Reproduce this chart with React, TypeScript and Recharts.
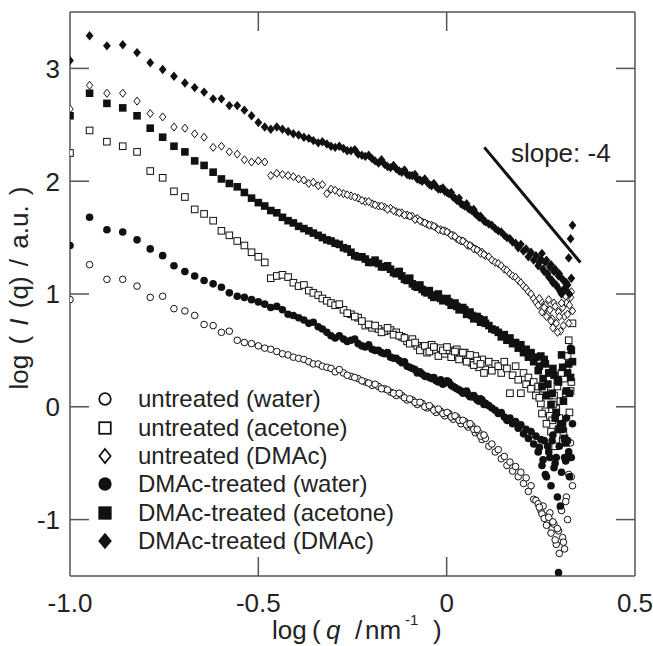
import React from "react";
import {
  ScatterChart,
  Scatter,
  XAxis,
  YAxis,
  ReferenceLine,
  ReferenceDot,
  Legend,
  Label,
} from "recharts";

// log(q) grid shared by all six curves
const LOGQ = [
  -1.0, -0.948, -0.902, -0.86, -0.822, -0.787, -0.754, -0.724, -0.695, -0.669,
  -0.644, -0.62, -0.598, -0.577, -0.556, -0.537, -0.518, -0.5, -0.483, -0.467,
  -0.451, -0.436, -0.421, -0.407, -0.393, -0.379, -0.366, -0.354, -0.341, -0.33,
  -0.318, -0.307, -0.296, -0.274, -0.254, -0.235, -0.216, -0.198, -0.181, -0.165,
  -0.149, -0.134, -0.119, -0.105, -0.091, -0.078, -0.065, -0.052, -0.04, -0.028,
  -0.016, -0.005, 0.006, 0.017, 0.027, 0.038, 0.048, 0.057, 0.067, 0.076,
  0.086, 0.094, 0.103, 0.112, 0.12, 0.129, 0.137, 0.145, 0.153, 0.16,
  0.168, 0.175, 0.183, 0.19, 0.197, 0.204, 0.211, 0.217, 0.224, 0.231,
  0.237, 0.243, 0.25, 0.256, 0.262, 0.268, 0.274, 0.28, 0.285, 0.291,
  0.297, 0.302, 0.308, 0.313, 0.318, 0.324, 0.329, 0.334,
];

// in-between q points of the dense part
const LOGQ_B = [
  -0.285, -0.264, -0.244, -0.225, -0.207, -0.19, -0.173, -0.157, -0.141, -0.126,
  -0.112, -0.098, -0.084, -0.071, -0.058, -0.046, -0.034, -0.022, -0.01, 0.001,
  0.012, 0.022, 0.033, 0.043, 0.053, 0.062, 0.072, 0.081, 0.09, 0.099,
  0.246, 0.253, 0.259, 0.265, 0.271, 0.277, 0.282, 0.288, 0.294, 0.299,
  0.305, 0.31, 0.316, 0.321, 0.326, 0.331,
];

const untreatedWater = [
  0.95, 1.26, 1.13, 1.13, 1.07, 0.97, 0.98, 0.87, 0.85, 0.81,
  0.73, 0.72, 0.66, 0.67, 0.59, 0.57, 0.56, 0.54, 0.52, 0.51,
  0.49, 0.47, 0.46, 0.44, 0.43, 0.42, 0.4, 0.38, 0.38, 0.36,
  0.35, 0.34, 0.31, 0.3, 0.27, 0.25, 0.22, 0.19, 0.18, 0.16,
  0.13, 0.1, 0.1, 0.06, 0.06, 0.02, 0.03, -0.01, -0.01, -0.05,
  -0.04, -0.08, -0.06, -0.11, -0.09, -0.15, -0.13, -0.18, -0.17, -0.23,
  -0.23, -0.29, -0.28, -0.35, -0.33, -0.4, -0.38, -0.46, -0.44, -0.52,
  -0.49, -0.57, -0.53, -0.62, -0.58, -0.68, -0.63, -0.75, -0.7, -0.82,
  -0.83, -0.86, -0.92, -0.88, -0.97, -1.01, -0.94, -1.08, -1.04, -1.22,
  -1.1, -0.89, -1.16, -1.26, -0.8, -0.6, -0.32, -0.7,
];
const untreatedWaterB = [
  0.33, 0.28, 0.26, 0.23, 0.21, 0.2, 0.16, 0.15, 0.12, 0.12,
  0.08, 0.07, 0.04, 0.04, 0.0, 0.01, -0.03, -0.02, -0.06, -0.05,
  -0.09, -0.08, -0.12, -0.12, -0.16, -0.15, -0.2, -0.2, -0.26, -0.25,
  -0.89, -0.95, -0.99, -1.05, -0.98, -1.12, -1.02, -1.18, -1.08, -1.3,
  -0.92, -1.2, -0.84, -1.0, -0.45, -0.62,
];

const untreatedAcetone = [
  2.25, 2.45, 2.35, 2.31, 2.26, 2.09, 2.03, 1.91, 1.86, 1.75,
  1.71, 1.65, 1.56, 1.52, 1.47, 1.43, 1.37, 1.33, 1.28, 1.14,
  1.16, 1.17, 1.15, 1.1, 1.07, 1.08, 1.03, 1.01, 0.99, 0.96,
  0.94, 0.92, 0.9, 0.86, 0.82, 0.79, 0.72, 0.7, 0.69, 0.67,
  0.68, 0.66, 0.62, 0.58, 0.6, 0.54, 0.52, 0.48, 0.55, 0.5,
  0.52, 0.47, 0.5, 0.46, 0.51, 0.45, 0.48, 0.43, 0.39, 0.45,
  0.35, 0.42, 0.33, 0.4, 0.32, 0.38, 0.36, 0.3, 0.4, 0.34,
  0.12, 0.28, 0.36, 0.24, 0.12, 0.3, 0.2, 0.26, 0.16, 0.22,
  0.1, 0.18, 0.03, 0.14, -0.04, 0.2, -0.08, -0.12, 0.1, -0.02,
  -0.2, 0.05, -0.3, 0.25, 0.35, 0.59, 0.14, 0.74,
];
const untreatedAcetoneB = [
  0.91, 0.83, 0.8, 0.76, 0.73, 0.72, 0.66, 0.7, 0.64, 0.63,
  0.61, 0.56, 0.57, 0.5, 0.54, 0.49, 0.53, 0.45, 0.5, 0.53,
  0.44, 0.49, 0.42, 0.48, 0.4, 0.46, 0.37, 0.41, 0.38, 0.3,
  0.08, -0.06, 0.16, -0.15, 0.1, -0.22, 0.02, -0.35, 0.18, -0.1,
  0.3, -0.25, 0.12, 0.45, -0.05, 0.22,
];

const untreatedDMAc = [
  2.64, 2.85, 2.78, 2.78, 2.71, 2.6, 2.57, 2.48, 2.47, 2.42,
  2.39, 2.3, 2.31, 2.26, 2.24, 2.19, 2.17, 2.18, 2.17, 2.05,
  2.07, 2.06, 2.05, 2.04, 2.02, 2.01, 1.98, 1.99, 1.96, 1.97,
  1.89, 1.93, 1.92, 1.89, 1.87, 1.85, 1.82, 1.8, 1.78, 1.77,
  1.76, 1.73, 1.72, 1.7, 1.69, 1.67, 1.64, 1.62, 1.61, 1.59,
  1.57, 1.56, 1.54, 1.52, 1.49, 1.47, 1.46, 1.43, 1.42, 1.4,
  1.38, 1.37, 1.34, 1.33, 1.3, 1.28, 1.27, 1.25, 1.22, 1.21,
  1.18, 1.16, 1.15, 1.12, 1.1, 1.07, 1.05, 1.02, 1.0, 0.96,
  0.93, 0.9, 0.94, 0.86, 0.9, 0.82, 0.86, 0.78, 0.92, 0.74,
  0.84, 0.67, 0.88, 0.8, 0.92, 0.74, 0.97, 0.85,
];
const untreatedDMAcB = [
  1.9, 1.88, 1.86, 1.83, 1.82, 1.79, 1.78, 1.75, 1.74, 1.72,
  1.7, 1.69, 1.66, 1.65, 1.63, 1.61, 1.6, 1.57, 1.56, 1.55,
  1.52, 1.51, 1.48, 1.47, 1.44, 1.43, 1.4, 1.39, 1.36, 1.35,
  0.96, 0.84, 0.88, 0.8, 0.95, 0.76, 0.7, 0.89, 0.66, 0.8,
  0.92, 0.72, 0.98, 0.82, 0.9, 1.02,
];

const treatedWater = [
  1.43, 1.68, 1.57, 1.55, 1.48, 1.4, 1.34, 1.25, 1.2, 1.16,
  1.12, 1.09, 1.06, 1.01, 0.98, 0.97, 0.95, 0.93, 0.91, 0.88,
  0.89, 0.86, 0.82, 0.81, 0.79, 0.77, 0.74, 0.75, 0.71, 0.69,
  0.66, 0.63, 0.61, 0.6, 0.59, 0.56, 0.53, 0.51, 0.5, 0.47,
  0.44, 0.43, 0.39, 0.36, 0.34, 0.3, 0.29, 0.27, 0.25, 0.23,
  0.24, 0.21, 0.22, 0.18, 0.16, 0.14, 0.13, 0.11, 0.09, 0.08,
  0.05, 0.06, 0.03, 0.01, -0.01, -0.03, -0.06, -0.05, -0.09, -0.12,
  -0.1, -0.15, -0.13, -0.19, -0.16, -0.24, -0.2, -0.28, -0.22, -0.33,
  -0.26, -0.4, -0.29, -0.47, -0.6, -0.35, -0.45, -0.3, -0.54, -0.45,
  -1.47, -0.88, -0.15, -0.45, -0.1, -0.4, 0.52, -0.15,
];
const treatedWaterB = [
  0.63, 0.58, 0.6, 0.54, 0.55, 0.5, 0.48, 0.48, 0.43, 0.41,
  0.4, 0.35, 0.33, 0.31, 0.27, 0.26, 0.26, 0.22, 0.2, 0.23,
  0.19, 0.17, 0.15, 0.12, 0.14, 0.09, 0.1, 0.06, 0.07, 0.02,
  -0.36, -0.52, -0.3, -0.62, -0.4, -0.7, -0.25, -0.5, -0.8, -0.35,
  -0.58, -0.2, -0.48, -0.3, -0.62, -0.45,
];

const treatedAcetone = [
  2.58, 2.78, 2.69, 2.65, 2.58, 2.47, 2.39, 2.31, 2.26, 2.18,
  2.14, 2.08, 2.02, 1.98, 1.95, 1.9, 1.85, 1.81, 1.78, 1.74,
  1.72, 1.68, 1.65, 1.63, 1.6, 1.58, 1.56, 1.54, 1.52, 1.5,
  1.48, 1.47, 1.45, 1.41, 1.37, 1.33, 1.31, 1.28, 1.27, 1.24,
  1.22, 1.18, 1.16, 1.12, 1.09, 1.06, 1.04, 1.01, 0.99, 0.98,
  0.96, 0.95, 0.93, 0.91, 0.89, 0.87, 0.86, 0.83, 0.81, 0.8,
  0.78, 0.76, 0.74, 0.72, 0.69, 0.68, 0.66, 0.62, 0.64, 0.59,
  0.61, 0.56, 0.57, 0.52, 0.55, 0.48, 0.51, 0.44, 0.48, 0.4,
  0.44, 0.32, 0.45, 0.25, 0.38, 0.2, 0.3, 0.12, 0.28, -0.05,
  0.22, -0.15, 0.35, -0.28, 0.14, 0.38, 0.26, 0.4,
];
const treatedAcetoneB = [
  1.44, 1.4, 1.34, 1.33, 1.28, 1.3, 1.24, 1.25, 1.19, 1.2,
  1.13, 1.14, 1.07, 1.08, 1.02, 1.03, 0.97, 1.0, 0.94, 0.96,
  0.9, 0.92, 0.86, 0.88, 0.82, 0.84, 0.78, 0.8, 0.75, 0.77,
  0.36, 0.18, 0.42, 0.1, 0.3, 0.02, 0.34, -0.1, 0.24, -0.2,
  0.46, 0.05, -0.32, 0.3, 0.12, 0.5,
];

const treatedDMAc = [
  3.07, 3.29, 3.2, 3.21, 3.14, 3.05, 2.99, 2.93, 2.87, 2.83,
  2.79, 2.73, 2.73, 2.67, 2.67, 2.63, 2.58, 2.52, 2.48, 2.46,
  2.48, 2.46, 2.44, 2.42, 2.41, 2.39, 2.38, 2.36, 2.34, 2.35,
  2.33, 2.31, 2.3, 2.29, 2.27, 2.24, 2.22, 2.2, 2.16, 2.15,
  2.12, 2.11, 2.08, 2.06, 2.05, 2.02, 2.0, 1.99, 1.96, 1.95,
  1.93, 1.91, 1.89, 1.86, 1.83, 1.8, 1.78, 1.76, 1.74, 1.71,
  1.68, 1.67, 1.64, 1.62, 1.61, 1.58, 1.56, 1.55, 1.52, 1.5,
  1.49, 1.46, 1.45, 1.41, 1.44, 1.38, 1.4, 1.33, 1.37, 1.3,
  1.34, 1.25, 1.31, 1.22, 1.28, 1.18, 1.24, 1.12, 1.2, 1.08,
  1.16, 1.02, 1.13, 1.05, 1.1, 1.32, 1.49, 1.61,
];
const treatedDMAcB = [
  2.31, 2.27, 2.28, 2.23, 2.23, 2.18, 2.19, 2.13, 2.14, 2.09,
  2.1, 2.05, 2.06, 2.01, 2.02, 1.97, 1.98, 1.93, 1.94, 1.9,
  1.9, 1.85, 1.85, 1.79, 1.8, 1.75, 1.75, 1.7, 1.69, 1.65,
  1.28, 1.36, 1.2, 1.3, 1.15, 1.26, 1.1, 1.22, 1.06, 1.18,
  1.0, 1.12, 1.04, 1.08, 1.0, 1.14,
];

const X_TICKS = [-1, -0.5, 0, 0.5];
const X_TICK_LABELS = ["-1.0", "-0.5", "0", "0.5"];
const Y_TICKS = [-1, 0, 1, 2, 3];

// slope -4 guide, in data units
const SLOPE_LINE = [
  { x: 0.1, y: 2.3 },
  { x: 0.355, y: 1.28 },
];
const SLOPE_TEXT = { x: 0.303, y: 2.25, text: "slope: -4" };

const FONT = "'Liberation Sans', Arial, Helvetica, sans-serif";
const FRAME = "#555";
const INK = "#111";
const TEXT = "#222";
const TICK_LEN = 19;

type Kind = "oc" | "os" | "od" | "fc" | "fs" | "fd";

const SERIES: { name: string; kind: Kind; ys: number[]; ysB: number[] }[] = [
  { name: "untreated (water)", kind: "oc", ys: untreatedWater, ysB: untreatedWaterB },
  { name: "untreated (acetone)", kind: "os", ys: untreatedAcetone, ysB: untreatedAcetoneB },
  { name: "untreated (DMAc)", kind: "od", ys: untreatedDMAc, ysB: untreatedDMAcB },
  { name: "DMAc-treated (water)", kind: "fc", ys: treatedWater, ysB: treatedWaterB },
  { name: "DMAc-treated (acetone)", kind: "fs", ys: treatedAcetone, ysB: treatedAcetoneB },
  { name: "DMAc-treated (DMAc)", kind: "fd", ys: treatedDMAc, ysB: treatedDMAcB },
];

const toPoints = (ys: number[], ysB: number[]) => [
  ...ys.map((y, i) => ({ x: LOGQ[i], y })),
  ...ysB.map((y, i) => ({ x: LOGQ_B[i], y })),
];

function Marker({ kind, cx, cy, s }: { kind: Kind; cx: number; cy: number; s: number }) {
  if (cx == null || cy == null) return null;
  const open = kind[0] === "o";
  const fill = open ? "#fff" : INK;
  const sw = open ? 1 * s : 0;
  if (kind[1] === "c") {
    const r = (open ? 3.3 : 3.8) * s;
    return <circle cx={cx} cy={cy} r={r} fill={fill} stroke={INK} strokeWidth={sw} />;
  }
  if (kind[1] === "s") {
    const h = (open ? 3.3 : 3.8) * s;
    return <rect x={cx - h} y={cy - h} width={2 * h} height={2 * h} fill={fill} stroke={INK} strokeWidth={sw} />;
  }
  const w = (open ? 3.2 : 3.9) * s;
  const h = (open ? 4.0 : 4.7) * s;
  return (
    <polygon
      points={`${cx},${cy - h} ${cx + w},${cy} ${cx},${cy + h} ${cx - w},${cy}`}
      fill={fill}
      stroke={INK}
      strokeWidth={sw}
    />
  );
}

function BottomTick(props: any) {
  const { x, y, payload } = props;
  const v = payload.value;
  const edge = v <= -1 || v >= 0.5;
  return (
    <g>
      {!edge && <line x1={x} y1={y} x2={x} y2={y - TICK_LEN} stroke={FRAME} strokeWidth={1.5} />}
      <text x={x} y={y + 36} textAnchor="middle" fontSize={26} fontFamily={FONT} fill={TEXT}>
        {X_TICK_LABELS[X_TICKS.indexOf(v)]}
      </text>
    </g>
  );
}

function TopTick(props: any) {
  const { x, y, payload } = props;
  const v = payload.value;
  if (v <= -1 || v >= 0.5) return <g />;
  return <line x1={x} y1={y} x2={x} y2={y + TICK_LEN} stroke={FRAME} strokeWidth={1.5} />;
}

function LeftTick(props: any) {
  const { x, y, payload } = props;
  return (
    <g>
      <line x1={x} y1={y} x2={x + TICK_LEN} y2={y} stroke={FRAME} strokeWidth={1.5} />
      <text x={x - 10} y={y} dy="0.36em" textAnchor="end" fontSize={26} fontFamily={FONT} fill={TEXT}>
        {payload.value}
      </text>
    </g>
  );
}

function RightTick(props: any) {
  const { x, y } = props;
  return <line x1={x} y1={y} x2={x - TICK_LEN} y2={y} stroke={FRAME} strokeWidth={1.5} />;
}

function XTitle() {
  return (
    <text y={639} fontSize={26} fontFamily={FONT} fill={TEXT}>
      <tspan x={272}>log</tspan>
      <tspan x={312}>(</tspan>
      <tspan x={326} fontStyle="italic">q</tspan>
      <tspan x={355}>/</tspan>
      <tspan x={365}>nm</tspan>
      <tspan x={405} y={625} fontSize={15}>-1</tspan>
      <tspan x={433} y={639}>)</tspan>
    </text>
  );
}

function YTitle() {
  return (
    <text
      x={28}
      y={288}
      transform="rotate(-90 28 288)"
      textAnchor="middle"
      fontSize={26}
      fontFamily={FONT}
      fill={TEXT}
      style={{ wordSpacing: 3 }}
    >
      log ( <tspan fontStyle="italic">I</tspan> (q) / a.u. )
    </text>
  );
}

function LegendBox() {
  return (
    <div style={{ fontFamily: FONT, fontSize: 24, color: TEXT }}>
      {SERIES.map((s) => (
        <div key={s.name} style={{ display: "flex", alignItems: "center", height: 28.4 }}>
          <svg width={24} height={24} style={{ flex: "none" }}>
            <Marker kind={s.kind} cx={12} cy={12} s={1.75} />
          </svg>
          <span style={{ marginLeft: 21, whiteSpace: "nowrap", lineHeight: "28px" }}>{s.name}</span>
        </div>
      ))}
    </div>
  );
}

export default function App() {
  const axisLine = { stroke: FRAME, strokeWidth: 1.5 };
  return (
    <div style={{ position: "absolute", left: 0, top: 0, width: 653, height: 646, background: "#fff" }}>
      <ScatterChart width={653} height={646} margin={{ top: 11, right: 17, bottom: 0, left: 0 }}>
        <XAxis
          xAxisId="b"
          type="number"
          dataKey="x"
          domain={[-1, 0.5]}
          ticks={X_TICKS}
          interval={0}
          allowDataOverflow
          height={70}
          tickSize={0}
          tickMargin={0}
          tickLine={false}
          axisLine={axisLine}
          tick={BottomTick}
        >
          <Label content={XTitle} />
        </XAxis>
        <XAxis
          xAxisId="t"
          orientation="top"
          type="number"
          dataKey="x"
          domain={[-1, 0.5]}
          ticks={X_TICKS}
          interval={0}
          allowDataOverflow
          height={1}
          tickSize={0}
          tickMargin={0}
          tickLine={false}
          axisLine={axisLine}
          tick={TopTick}
        />
        <YAxis
          yAxisId="l"
          type="number"
          dataKey="y"
          domain={[-1.5, 3.5]}
          ticks={Y_TICKS}
          interval={0}
          allowDataOverflow
          width={70}
          tickSize={0}
          tickMargin={0}
          tickLine={false}
          axisLine={axisLine}
          tick={LeftTick}
        >
          <Label content={YTitle} />
        </YAxis>
        <YAxis
          yAxisId="r"
          orientation="right"
          type="number"
          dataKey="y"
          domain={[-1.5, 3.5]}
          ticks={Y_TICKS}
          interval={0}
          allowDataOverflow
          width={1}
          tickSize={0}
          tickMargin={0}
          tickLine={false}
          axisLine={axisLine}
          tick={RightTick}
        />
        {SERIES.map((s) => (
          <Scatter
            key={s.name}
            name={s.name}
            data={toPoints(s.ys, s.ysB)}
            xAxisId="b"
            yAxisId="l"
            isAnimationActive={false}
            shape={(p: any) => <Marker kind={s.kind} cx={p.cx} cy={p.cy} s={1} />}
          />
        ))}
        <ReferenceLine
          xAxisId="b"
          yAxisId="l"
          segment={SLOPE_LINE}
          stroke={INK}
          strokeWidth={3}
          ifOverflow="visible"
        />
        <ReferenceDot
          xAxisId="b"
          yAxisId="l"
          x={SLOPE_TEXT.x}
          y={SLOPE_TEXT.y}
          r={1}
          fill="none"
          stroke="none"
          ifOverflow="visible"
          label={{ value: SLOPE_TEXT.text, position: "center", fontSize: 26, fill: TEXT, fontFamily: FONT }}
        />
        <Legend
          layout="vertical"
          align="center"
          verticalAlign="middle"
          content={LegendBox}
          wrapperStyle={{ left: 93, top: 385, width: 330, height: 175 }}
        />
      </ScatterChart>
    </div>
  );
}
